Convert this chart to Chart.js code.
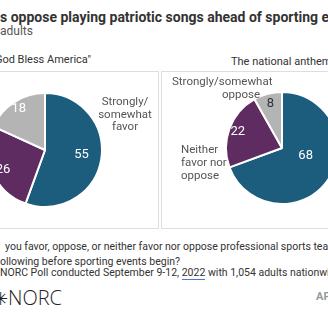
<!DOCTYPE html>
<html>
<head>
<meta charset="utf-8">
<script src="https://cdn.jsdelivr.net/npm/chart.js@4"></script>
<style>
  html, body { margin: 0; padding: 0; background: #fff; }
  body { width: 328px; height: 328px; position: relative; overflow: hidden; font-family: Roboto, sans-serif; }
  .t { position: absolute; white-space: nowrap; }
  .box { position: absolute; border: 1px solid #dedede; }
  canvas { position: absolute; }
</style>
</head>
<body>
<div class="t" style="left:0;top:9px;font-size:14px;font-weight:bold;color:#333;line-height:17px;">s oppose playing patriotic songs ahead of sporting events</div>
<div class="t" style="left:0;top:25px;font-size:12px;color:#555;line-height:13px;">adults</div>

<div class="box" style="left:-2px;top:71px;width:159px;height:156px;"></div>
<div class="box" style="left:161px;top:71px;width:200px;height:156px;"></div>

<div class="t" style="right:237px;top:53px;font-size:11px;color:#333;line-height:14px;">"God Bless America"</div>
<div class="t" style="left:231px;top:55px;font-size:11px;color:#333;line-height:14px;">The national anthem</div>

<canvas id="leftPie" width="116" height="116" style="left:-13px;top:92px;"></canvas>
<canvas id="rightPie" width="114" height="114" style="left:225px;top:91px;"></canvas>

<div class="t" style="left:95px;top:95px;width:60px;text-align:center;font-size:11.5px;color:#555;line-height:12.5px;">Strongly/<br>somewhat<br>favor</div>

<div class="t" style="left:172px;top:75px;font-size:11.5px;color:#555;line-height:13px;">Strongly/somewhat</div>
<div class="t" style="left:222px;top:88px;font-size:11.5px;color:#555;line-height:13px;">oppose</div>
<div class="t" style="left:181px;top:143px;font-size:11.5px;color:#555;line-height:13px;">Neither<br>favor nor<br>oppose</div>

<div class="t" style="left:5px;top:240px;font-size:10.5px;color:#333;line-height:14px;">you favor, oppose, or neither favor nor oppose professional sports teams</div>
<div class="t" style="left:0;top:255px;font-size:10.5px;color:#333;line-height:14px;">ollowing before sporting events begin?</div>
<div class="t" style="left:0;top:266px;font-size:10.5px;color:#333;line-height:14px;">NORC Poll conducted September 9-12, <span style="border-bottom:1px solid #4a78d0;">2022</span> with 1,054 adults nationwide</div>

<div class="t" style="left:-7px;top:286px;font-size:18px;color:#222;line-height:24px;font-family:'DejaVu Sans';font-weight:200;">✳<span style="font-family:'Open Sans';font-size:20px;">NORC</span></div>
<div class="t" style="left:316px;top:290px;font-size:11px;font-weight:bold;color:#999;line-height:14px;">AP</div>

<script>
const responses = ['Strongly/somewhat favor', 'Neither favor nor oppose', 'Strongly/somewhat oppose'];
const godBlessAmerica = [55, 26, 18];
const nationalAnthem = [68, 22, 8];

const sliceColors = ['#1c5c7d', '#5e2c60', '#b4b4b4'];
const labelColors = ['#fff', '#fff', '#fff'];

// draws each value inside its slice
const sliceLabels = {
  id: 'sliceLabels',
  afterDatasetsDraw(chart, args, opts) {
    const ctx = chart.ctx;
    const arcs = chart.getDatasetMeta(0).data;
    const values = chart.data.datasets[0].data;
    ctx.save();
    ctx.font = '13px Roboto';
    ctx.textAlign = 'center';
    ctx.textBaseline = 'middle';
    arcs.forEach((arc, i) => {
      const p = arc.getProps(['x', 'y', 'startAngle', 'endAngle', 'outerRadius'], true);
      const mid = (p.startAngle + p.endAngle) / 2;
      const r = p.outerRadius * opts.radius[i];
      const nudge = opts.nudge[i] || [0, 0];
      ctx.fillStyle = opts.colors[i];
      ctx.fillText(values[i], p.x + Math.cos(mid) * r + nudge[0], p.y + Math.sin(mid) * r + nudge[1]);
    });
    ctx.restore();
  }
};

function drawPie(id, values, labelOpts) {
  return new Chart(document.getElementById(id), {
    type: 'pie',
    data: {
      labels: responses,
      datasets: [{
        data: values,
        backgroundColor: sliceColors,
        borderColor: '#fff',
        borderWidth: 2
      }]
    },
    options: {
      responsive: false,
      animation: false,
      layout: { padding: 0 },
      plugins: {
        legend: { display: false },
        tooltip: { enabled: false },
        sliceLabels: labelOpts
      }
    },
    plugins: [sliceLabels]
  });
}

drawPie('leftPie', godBlessAmerica, {
  radius: [0.65, 0.8, 0.85],
  nudge: [[0, -2], [0, 2], [0, 0]],
  colors: labelColors
});

drawPie('rightPie', nationalAnthem, {
  radius: [0.45, 0.84, 0.82],
  nudge: [[3, -7], [0, 0], [0, 0]],
  colors: ['#fff', '#fff', '#333']
});
</script>
</body>
</html>
